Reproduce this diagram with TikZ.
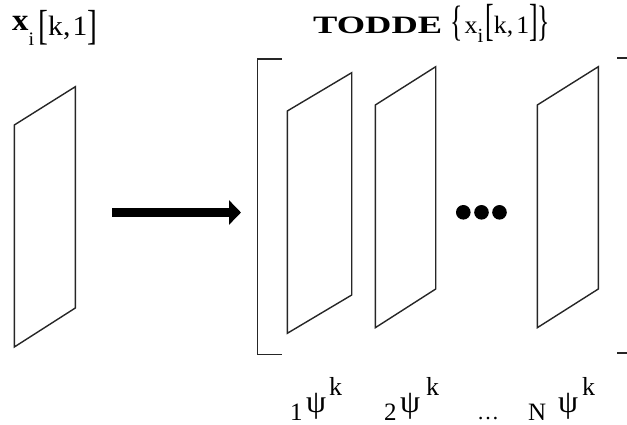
\documentclass[tikz,border=0pt]{standalone}
\usepackage{fontspec}
\setmainfont{Liberation Serif}
\usetikzlibrary{arrows.meta}
\tikzset{
  plane/.style={draw=black!85, line width=1.4pt, line join=miter},
  brk/.style={draw=black!85, line width=1.5pt},
  lbl/.style={inner sep=0pt, anchor=base west},
  bigarrow/.style={line width=8.5pt, -{Triangle[length=12pt,width=24pt]}},
  bigdot/.style={circle, fill=black, inner sep=0pt, minimum size=14.6pt}
}
\begin{document}
\begin{tikzpicture}[x=1pt,y=-1pt]
\useasboundingbox (0,0) rectangle (627,424);
% input plane
\draw[plane] (14.3,125) -- (75.3,86.7) -- (75.3,308) -- (14.3,347) -- cycle;
% arrow
\coordinate (arrS) at (112,212.5);
\coordinate (arrE) at (241,212.5);
\draw[bigarrow] (arrS) -- (arrE);
% bracket
\draw[brk] (282,59) -- (257.3,59) -- (257.3,354.3) -- (282,354.3);
\draw[brk] (617,58) -- (627,58);
\draw[brk] (617,353) -- (627,353);
% planes
\draw[plane] (287.3,111) -- (351.7,72.7) -- (351.7,295) -- (287.3,333.3) -- cycle;
\draw[plane] (375.3,105) -- (435.7,66.7) -- (435.7,289) -- (375.3,327.7) -- cycle;
\draw[plane] (537.3,105) -- (598.3,66.7) -- (598.3,289) -- (537.3,327.7) -- cycle;
% dots
\node[bigdot] (d1) at (463.3,212.3) {};
\node[bigdot] (d2) at (481.5,212.3) {};
\node[bigdot] (d3) at (499.5,212.3) {};
% top-left label
\node[lbl] (xlbl) at (12,35) {\resizebox{85pt}{\height}{\fontsize{28}{28}\selectfont\raisebox{5pt}{\fontsize{31}{31}\selectfont\bfseries x}\raisebox{-10pt}{\fontsize{19}{19}\selectfont i}\hspace{4pt}\raisebox{-4pt}{\scalebox{1}[1.5]{[}}k,\hspace{2pt}1\raisebox{-4pt}{\scalebox{1}[1.5]{]}}}};
% title
\node[lbl] (todde) at (313,33) {\resizebox{129pt}{\height}{\fontsize{25}{25}\selectfont\bfseries TODDE}};
\node[lbl] (todarg) at (450,33) {\resizebox{100pt}{\height}{\fontsize{25}{25}\selectfont\raisebox{-2pt}{\scalebox{1}[1.7]{\{}}\hspace{2pt}x\raisebox{-9pt}{\fontsize{20}{20}\selectfont i}\hspace{2pt}\raisebox{-2pt}{\scalebox{1}[1.8]{[}}k,\hspace{3pt}1\raisebox{-2pt}{\scalebox{1}[1.8]{]}}\raisebox{-2pt}{\scalebox{1}[1.7]{\}}}}};
% bottom labels
\node[lbl] (n1) at (290,420) {\fontsize{25}{25}\selectfont 1};
\node[lbl] (p1) at (306,412) {\fontsize{32}{32}\selectfont ψ};
\node[lbl] (k1) at (329,395) {\fontsize{26}{26}\selectfont k};
\node[lbl] (n2) at (384,420) {\fontsize{25}{25}\selectfont 2};
\node[lbl] (p2) at (400,412) {\fontsize{32}{32}\selectfont ψ};
\node[lbl] (k2) at (426,395) {\fontsize{26}{26}\selectfont k};
\node[lbl] (ell) at (477,419) {\fontsize{22}{22}\selectfont …};
\node[lbl] (nN) at (528,420) {\fontsize{25}{25}\selectfont N};
\node[lbl] (pN) at (558,412) {\fontsize{32}{32}\selectfont ψ};
\node[lbl] (kN) at (582,395) {\fontsize{26}{26}\selectfont k};
\end{tikzpicture}
\end{document}
